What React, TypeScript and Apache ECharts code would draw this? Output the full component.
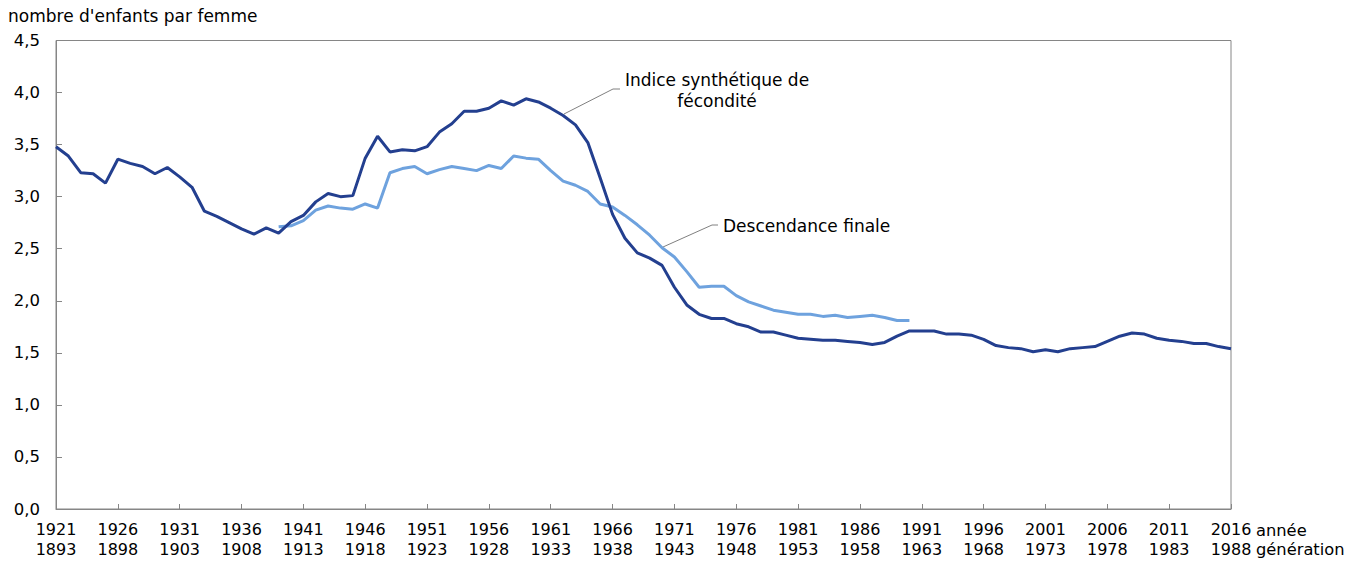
import React, { useEffect, useRef } from "react";
import * as echarts from "echarts";

const years = [
  "1921","1922","1923","1924","1925","1926","1927","1928","1929","1930",
  "1931","1932","1933","1934","1935","1936","1937","1938","1939","1940",
  "1941","1942","1943","1944","1945","1946","1947","1948","1949","1950",
  "1951","1952","1953","1954","1955","1956","1957","1958","1959","1960",
  "1961","1962","1963","1964","1965","1966","1967","1968","1969","1970",
  "1971","1972","1973","1974","1975","1976","1977","1978","1979","1980",
  "1981","1982","1983","1984","1985","1986","1987","1988","1989","1990",
  "1991","1992","1993","1994","1995","1996","1997","1998","1999","2000",
  "2001","2002","2003","2004","2005","2006","2007","2008","2009","2010",
  "2011","2012","2013","2014","2015","2016",
];

// generation label shown under each labelled year
const generationLabels: Record<string, string> = {
  "1921": "1893", "1926": "1898", "1931": "1903", "1936": "1908", "1941": "1913",
  "1946": "1918", "1951": "1923", "1956": "1928", "1961": "1933", "1966": "1938",
  "1971": "1943", "1976": "1948", "1981": "1953", "1986": "1958", "1991": "1963",
  "1996": "1968", "2001": "1973", "2006": "1978", "2011": "1983", "2016": "1988",
};

// Indice synthétique de fécondité, 1921–2016
const isf = [
  3.48, 3.39, 3.23, 3.22, 3.13, 3.36, 3.32, 3.29, 3.22, 3.28,
  3.19, 3.09, 2.86, 2.81, 2.75, 2.69, 2.64, 2.70, 2.65, 2.76,
  2.82, 2.95, 3.03, 3.00, 3.01, 3.37, 3.58, 3.43, 3.45, 3.44,
  3.48, 3.62, 3.70, 3.82, 3.82, 3.85, 3.92, 3.88, 3.94, 3.91,
  3.85, 3.78, 3.69, 3.52, 3.18, 2.83, 2.60, 2.46, 2.41, 2.34,
  2.13, 1.96, 1.87, 1.83, 1.83, 1.78, 1.75, 1.70, 1.70, 1.67,
  1.64, 1.63, 1.62, 1.62, 1.61, 1.60, 1.58, 1.60, 1.66, 1.71,
  1.71, 1.71, 1.68, 1.68, 1.67, 1.63, 1.57, 1.55, 1.54, 1.51,
  1.53, 1.51, 1.54, 1.55, 1.56, 1.61, 1.66, 1.69, 1.68, 1.64,
  1.62, 1.61, 1.59, 1.59, 1.56, 1.54,
];

// Descendance finale (générations 1911–1962, plotted at year 1939–1990)
const descendance = [
  null, null, null, null, null, null, null, null, null, null,
  null, null, null, null, null, null, null, null, 2.71, 2.72,
  2.77, 2.87, 2.91, 2.89, 2.88, 2.93, 2.89, 3.23, 3.27, 3.29,
  3.22, 3.26, 3.29, 3.27, 3.25, 3.30, 3.27, 3.39, 3.37, 3.36,
  3.25, 3.15, 3.11, 3.05, 2.93, 2.90, 2.82, 2.73, 2.63, 2.51,
  2.42, 2.28, 2.13, 2.14, 2.14, 2.05, 1.99, 1.95, 1.91, 1.89,
  1.87, 1.87, 1.85, 1.86, 1.84, 1.85, 1.86, 1.84, 1.81, 1.81,
  null, null, null, null, null, null, null, null, null, null,
  null, null, null, null, null, null, null, null, null, null,
  null, null, null, null, null, null,
];

const FONT = "Verdana, 'DejaVu Sans', sans-serif";
const DARK = "#233f8f";
const LIGHT = "#6ea2de";
const AXIS = "#868686";

export default function App() {
  const ref = useRef<HTMLDivElement>(null);
  useEffect(() => {
    document.body.style.margin = "0";
    if (!ref.current) return;
    const chart = echarts.init(ref.current, null, { renderer: "svg" });
    chart.setOption({
      animation: false,
      backgroundColor: "#ffffff",
      textStyle: { fontFamily: FONT },
      grid: {
        left: 56,
        right: 131,
        top: 40.5,
        bottom: 54,
        show: true,
        borderColor: AXIS,
        borderWidth: 1,
        backgroundColor: "transparent",
      },
      xAxis: {
        type: "category",
        data: years,
        boundaryGap: false,
        axisLine: { lineStyle: { color: AXIS, width: 1 } },
        axisTick: { inside: true, interval: 4, length: 5, lineStyle: { color: AXIS } },
        axisLabel: {
          interval: 4,
          margin: 11,
          color: "#000",
          fontSize: 16,
          lineHeight: 19.5,
          fontFamily: FONT,
          formatter: (v: string) => `${v}\n${generationLabels[v] ?? ""}`,
        },
        splitLine: { show: false },
      },
      yAxis: {
        type: "value",
        min: 0,
        max: 4.5,
        interval: 0.5,
        axisLine: { show: true, lineStyle: { color: AXIS, width: 1 } },
        axisTick: { show: true, inside: true, length: 6, lineStyle: { color: AXIS } },
        axisLabel: {
          margin: 16,
          color: "#000",
          fontSize: 16.5,
          fontFamily: FONT,
          formatter: (v: number) => v.toFixed(1).replace(".", ","),
        },
        splitLine: { show: false },
      },
      series: [
        {
          name: "Descendance finale",
          type: "line",
          data: descendance,
          showSymbol: false,
          connectNulls: false,
          lineStyle: { color: LIGHT, width: 3 },
          z: 2,
        },
        {
          name: "Indice synthétique de fécondité",
          type: "line",
          data: isf,
          showSymbol: false,
          lineStyle: { color: DARK, width: 3 },
          z: 3,
        },
      ],
      graphic: [
        {
          type: "text",
          x: 8,
          y: 16,
          style: { text: "nombre d'enfants par femme", fontSize: 17, fontFamily: FONT, fill: "#000", textVerticalAlign: "middle" },
        },
        {
          type: "text",
          x: 1256,
          y: 530,
          style: { text: "année", fontSize: 16.3, fontFamily: FONT, fill: "#000", textVerticalAlign: "middle" },
        },
        {
          type: "text",
          x: 1256,
          y: 549.5,
          style: { text: "génération", fontSize: 16.3, fontFamily: FONT, fill: "#000", textVerticalAlign: "middle" },
        },
        {
          type: "text",
          x: 717,
          y: 90,
          style: {
            text: "Indice synthétique de\nfécondité",
            fontSize: 17,
            lineHeight: 21,
            fontFamily: FONT,
            fill: "#000",
            textAlign: "center",
            textVerticalAlign: "middle",
          },
        },
        {
          type: "polyline",
          shape: { points: [[620, 89], [613, 89], [564, 114]] },
          style: { stroke: "#808080", lineWidth: 1, fill: "none" },
        },
        {
          type: "text",
          x: 723,
          y: 226,
          style: {
            text: "Descendance finale",
            fontSize: 17,
            fontFamily: FONT,
            fill: "#000",
            textVerticalAlign: "middle",
          },
        },
        {
          type: "polyline",
          shape: { points: [[718, 225], [712, 225], [663, 247]] },
          style: { stroke: "#808080", lineWidth: 1, fill: "none" },
        },
      ],
    });
    return () => chart.dispose();
  }, []);
  return <div ref={ref} style={{ width: 1362, height: 563 }} />;
}
